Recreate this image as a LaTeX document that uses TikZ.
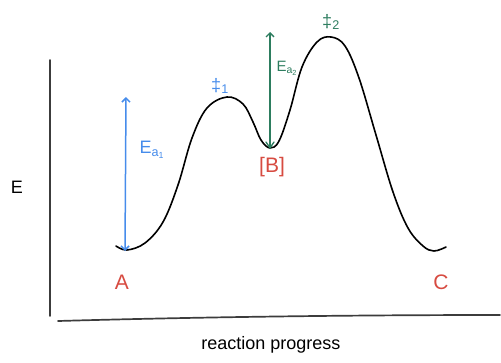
\documentclass[tikz,border=0pt]{standalone}
\usepackage{fontspec}
\setmainfont{Liberation Sans}
\usetikzlibrary{arrows.meta}
\definecolor{eblue}{RGB}{70,140,235}
\definecolor{egreen}{RGB}{45,125,95}
\definecolor{ered}{RGB}{215,75,65}
\definecolor{axisgray}{RGB}{60,60,60}
\tikzset{
  axisline/.style={draw=axisgray, line width=1.7pt, line cap=round},
  curveline/.style={draw=black, line width=1.6pt, line cap=round},
  energyarrow/.style={line width=1.5pt, {Straight Barb[length=4pt,width=8pt]}-{Straight Barb[length=4pt,width=8pt]}},
  uparrow/.style={line width=1.4pt, -{Straight Barb[length=4pt,width=8pt]}},
  lbl/.style={inner sep=0pt, font=\fontsize{18}{18}\selectfont},
  biglbl/.style={inner sep=0pt, font=\fontsize{21}{21}\selectfont},
  slbl/.style={inner sep=0pt, font=\fontsize{15}{15}\selectfont},
}
\begin{document}
\begin{tikzpicture}[x=1pt,y=-1pt]
\useasboundingbox (0,0) rectangle (501,362);
% axes
\coordinate (ytop) at (50,60);
\coordinate (ybot) at (50,316);
\coordinate (xl) at (58,321);
\coordinate (xr) at (500,315);
\draw[axisline] (ytop) -- (ybot);
\draw[axisline] (xl) .. controls (200,317) and (350,315) .. (xr);
% energy curve
\draw[curveline] plot[smooth, tension=0.6] coordinates {
 (116,246) (127,250) (145,243) (163,222) (178,185) (192,138) (207,108) (227,97)
 (243,104) (253,122) (261,140) (270,148) (279,141) (290,110) (302,67) (317,42) (331,37)
 (345,46) (359,78) (376,135) (393,192) (408,228) (423,246) (434,251) (446,247)};
% blue Ea1 arrow
\coordinate (a1top) at (126,97);
\coordinate (a1bot) at (125,251);
\draw[energyarrow, eblue] (a1bot) -- (a1top);
\node[lbl, text=eblue] (ea1) at (152,150) {E\textsubscript{a\textsubscript{1}}};
\node[lbl, text=eblue] (ts1) at (220,86) {‡\textsubscript{1}};
% green Ea2 arrow
\coordinate (a2top) at (270,32);
\coordinate (a2bot) at (270,148);
\draw[uparrow, egreen] (a2bot) -- (a2top);
\draw[egreen, line width=1.3pt, line cap=round] (266,142) -- (270,148) -- (274,142);
\node[slbl, text=egreen] (ea2) at (287,68) {E\textsubscript{a\textsubscript{2}}};
\node[lbl, text=egreen] (ts2) at (331,22) {‡\textsubscript{2}};
% labels
\node[biglbl, text=ered] (B) at (272,167) {[B]};
\node[biglbl, text=ered] (A) at (122,282) {A};
\node[biglbl, text=ered] (C) at (441,282) {C};
\node[lbl] (E) at (17,187) {E};
\node[lbl] (xlab) at (271,345) {reaction progress};
\end{tikzpicture}
\end{document}
